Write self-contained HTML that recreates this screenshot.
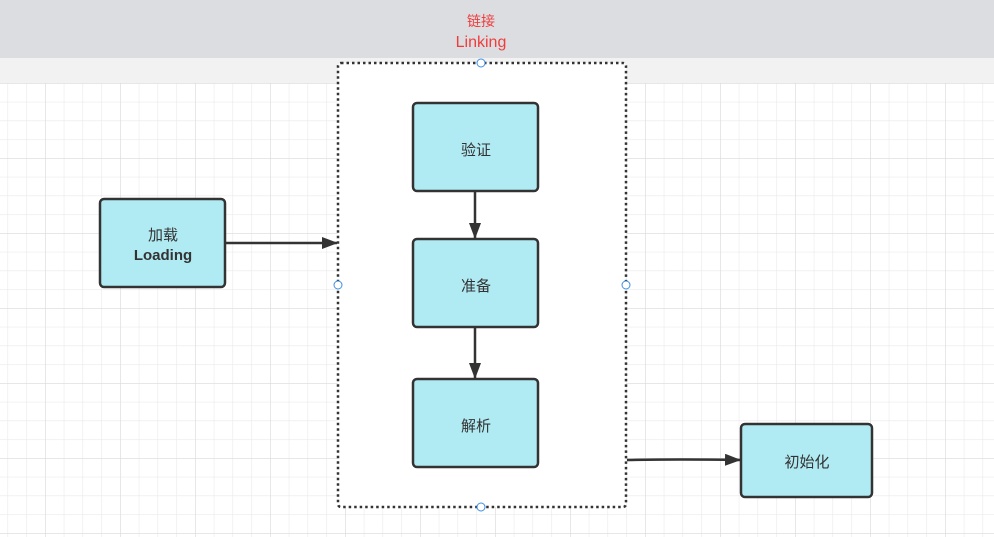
<!DOCTYPE html>
<html><head><meta charset="utf-8"><style>
html,body{margin:0;padding:0;width:994px;height:537px;overflow:hidden;background:#fff}
svg{display:block}
text{font-family:"Liberation Sans","Noto Sans CJK SC",sans-serif;fill:#333}
</style></head><body>
<svg width="994" height="537" viewBox="0 0 994 537" xmlns="http://www.w3.org/2000/svg">
<defs>
<pattern id="minor" x="7.5" y="8" width="18.75" height="18.75" patternUnits="userSpaceOnUse">
<path d="M0 0V18.75M0 0H18.75" stroke="#e9e9e9" stroke-width="1.2" fill="none"/>
</pattern>
<pattern id="major" x="45" y="8" width="75" height="75" patternUnits="userSpaceOnUse">
<path d="M0 0V75M0 0H75" stroke="#dcdcdc" stroke-width="1.3" fill="none"/>
</pattern>
<marker id="ar" markerWidth="16" markerHeight="14" refX="15" refY="6" orient="auto" markerUnits="userSpaceOnUse">
<path d="M0 0L16 6L0 12Z" fill="#333"/>
</marker>
</defs>
<rect x="0" y="83" width="994" height="454" fill="url(#minor)"/>
<rect x="0" y="83" width="994" height="454" fill="url(#major)"/>
<rect x="0" y="58" width="994" height="25" fill="#f2f2f2"/>
<rect x="0" y="0" width="994" height="58" fill="#dcdde1"/>
<text x="481" y="26" font-size="14" style="fill:#f03c3c" text-anchor="middle">链接</text>
<text x="481" y="47" font-size="16" style="fill:#f03c3c" text-anchor="middle">Linking</text>
<rect x="338" y="63" width="288" height="444" rx="3" fill="#fff" stroke="#333" stroke-width="2.5" stroke-dasharray="2.5,3"/>
<g stroke="#333" stroke-width="2.5" fill="#b0eaf2">
<rect x="100" y="199" width="125" height="88" rx="4"/>
<rect x="413" y="103" width="125" height="88" rx="4"/>
<rect x="413" y="239" width="125" height="88" rx="4"/>
<rect x="413" y="379" width="125" height="88" rx="4"/>
<rect x="741" y="424" width="131" height="73" rx="4"/>
</g>
<g stroke="#333" stroke-width="2.5" fill="none">
<line x1="226" y1="243" x2="337" y2="243" marker-end="url(#ar)"/>
<line x1="475" y1="192" x2="475" y2="238" marker-end="url(#ar)"/>
<line x1="475" y1="328" x2="475" y2="378" marker-end="url(#ar)"/>
<path d="M627 460Q680 459 740 460" marker-end="url(#ar)"/>
</g>
<g fill="#fff" stroke="#3d8ee8" stroke-width="1">
<circle cx="481" cy="63" r="4"/><circle cx="338" cy="285" r="4"/>
<circle cx="626" cy="285" r="4"/><circle cx="481" cy="507" r="4"/>
</g>
<g font-size="15" text-anchor="middle">
<text x="163" y="240">加载</text>
<text x="163" y="260" font-weight="bold">Loading</text>
<text x="476" y="155">验证</text>
<text x="476" y="291">准备</text>
<text x="476" y="431">解析</text>
<text x="807" y="467">初始化</text>
</g>
</svg>
</body></html>
